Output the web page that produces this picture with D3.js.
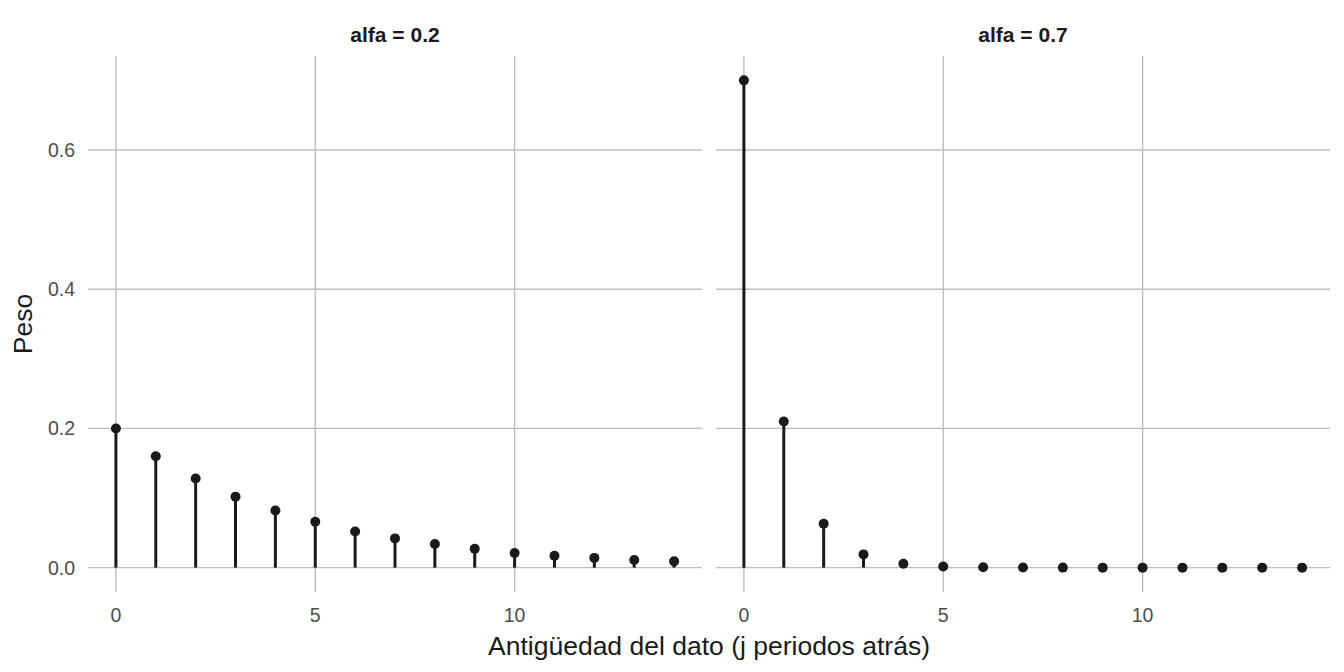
<script src="https://d3js.org/d3.v7.min.js"></script>
<div id="container"></div>
<style>
body { margin: 0; background: #fff; }
text { font-family: "Liberation Sans", Arial, sans-serif; }
</style>
<script type="text/javascript">

var width = 1344, height = 672;

// lags j = 0..14
var lags = [0,1,2,3,4,5,6,7,8,9,10,11,12,13,14];
var alfaLabels = ["alfa = 0.2", "alfa = 0.7"];
// weights
var pesoA02 = [0.200, 0.160, 0.128, 0.102, 0.082, 0.066, 0.052, 0.042, 0.034, 0.027, 0.021, 0.017, 0.014, 0.011, 0.009];
var pesoA07 = [0.700, 0.210, 0.063, 0.019, 0.0057, 0.0017, 0.0005, 0.00015, 0.00005, 0.00001, 0.000004, 0.000001, 0, 0, 0];
var xTicks = [0, 5, 10];
var yTicks = [0, 0.2, 0.4, 0.6];

var series = [pesoA02, pesoA07];

var svg = d3.select('#container')
  .append('svg')
  .attr('width', width)
  .attr('height', height);

var panelW = 614, gap = 14, left0 = 88, panelTop = 56, panelBottom = 592;

var yScale = d3.scaleLinear()
  .domain([-0.035, 0.735])
  .range([panelBottom, panelTop]);

series.forEach(function(vals, p){
  var x0 = left0 + p*(panelW + gap);
  var x = d3.scaleLinear()
    .domain([-0.7, 14.7])
    .range([x0, x0 + panelW]);

  var g = svg.append('g');

  // grid
  g.selectAll('.hg').data(yTicks).enter().append('line')
    .attr('x1', x0).attr('x2', x0 + panelW)
    .attr('y1', d => yScale(d)).attr('y2', d => yScale(d))
    .style('stroke', '#bdbdbd').style('stroke-width', 1.4);
  g.selectAll('.vg').data(xTicks).enter().append('line')
    .attr('y1', panelTop).attr('y2', panelBottom)
    .attr('x1', d => x(d)).attr('x2', d => x(d))
    .style('stroke', '#bdbdbd').style('stroke-width', 1.4);

  // x tick labels
  g.selectAll('.xt').data(xTicks).enter().append('text')
    .attr('x', d => x(d)).attr('y', 622)
    .attr('text-anchor', 'middle')
    .style('font-size', '19.5px').style('fill', '#4d4d4d')
    .text(d => d);

  // strip title
  g.append('text')
    .attr('x', x0 + panelW/2).attr('y', 42)
    .attr('text-anchor', 'middle')
    .style('font-size', '21px').style('font-weight', 'bold').style('fill', '#1a1a1a')
    .text(alfaLabels[p]);

  // stems
  g.selectAll('.stem').data(vals).enter().append('line')
    .attr('x1', (d,i) => x(lags[i])).attr('x2', (d,i) => x(lags[i]))
    .attr('y1', yScale(0)).attr('y2', d => yScale(d))
    .style('stroke', '#1a1a1a').style('stroke-width', 3);

  // points
  g.selectAll('.pt').data(vals).enter().append('circle')
    .attr('cx', (d,i) => x(lags[i]))
    .attr('cy', d => yScale(d))
    .attr('r', 5)
    .style('fill', '#1a1a1a');
});

// y tick labels (left panel only)
svg.selectAll('.yt').data(yTicks).enter().append('text')
  .attr('x', 75).attr('y', d => yScale(d) + 7)
  .attr('text-anchor', 'end')
  .style('font-size', '19.5px').style('fill', '#4d4d4d')
  .text(d => d3.format('.1f')(d));

// axis titles
svg.append('text')
  .attr('x', left0 + panelW + gap/2).attr('y', 655)
  .attr('text-anchor', 'middle')
  .style('font-size', '26.5px').style('fill', '#1a1a1a')
  .text('Antigüedad del dato (j periodos atrás)');

svg.append('text')
  .attr('transform', 'translate(32,' + ((panelTop + panelBottom)/2) + ') rotate(-90)')
  .attr('text-anchor', 'middle')
  .style('font-size', '26.5px').style('fill', '#1a1a1a')
  .text('Peso');

</script>
